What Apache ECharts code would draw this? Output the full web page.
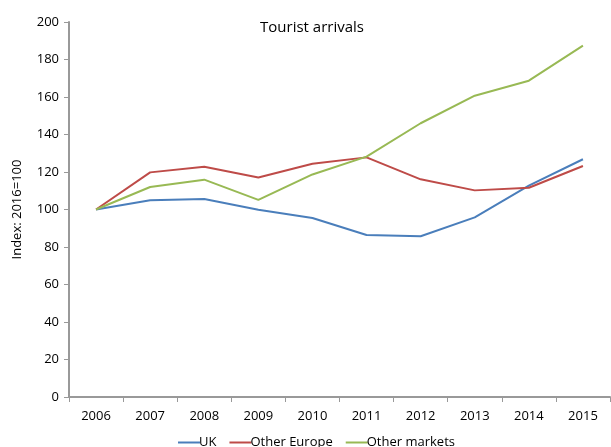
<!DOCTYPE html>
<html><head><meta charset="utf-8">
<script src="https://cdn.jsdelivr.net/npm/echarts@6/dist/echarts.min.js"></script>
<style>html,body{margin:0;padding:0;background:#fff}#c{width:611px;height:447px}</style>
</head><body><div id="c"></div>
<script>
const years = ['2006','2007','2008','2009','2010','2011','2012','2013','2014','2015'];
const uk = [100, 104.9, 105.6, 99.9, 95.5, 86.4, 85.7, 95.8, 112.7, 126.8];
const otherEurope = [100, 119.8, 122.8, 117.1, 124.4, 127.8, 116.1, 110.2, 111.6, 123.2];
const otherMarkets = [100, 112, 115.9, 105.1, 118.7, 128.2, 146, 160.7, 168.7, 187.4];
const FONT = '"Open Sans", "Noto Sans", sans-serif';
const chart = echarts.init(document.getElementById('c'));
chart.setOption({
  animation: false,
  textStyle: {fontFamily: FONT},
  title: {text: 'Tourist arrivals', left: 307, top: 15, textAlign: 'center',
    textStyle: {fontFamily: FONT, fontSize: 15, fontWeight: 'normal', color: '#000'}},
  grid: {left: 69, right: 1, top: 22, bottom: 50},
  legend: {top: 431, left: 173, itemWidth: 22, itemHeight: 2, icon: 'rect', itemGap: 13,
    textStyle: {fontFamily: FONT, fontSize: 13, color: '#000', padding: [0,0,0,-6]},
    data: ['UK','Other Europe','Other markets']},
  xAxis: {type: 'category', data: years, boundaryGap: true,
    axisLine: {lineStyle: {color: '#999', width: 2}},
    axisTick: {show: true, alignWithLabel: false, length: 5, lineStyle: {color: '#999'}},
    axisLabel: {color: '#000', fontSize: 13, margin: 13}},
  yAxis: {type: 'value', min: 0, max: 200, interval: 20,
    name: 'Index: 2016=100', nameLocation: 'middle', nameGap: 45, nameRotate: 90,
    nameTextStyle: {color: '#000', fontSize: 13},
    axisLine: {show: true, lineStyle: {color: '#999', width: 2}},
    axisTick: {show: true, length: 5, lineStyle: {color: '#999'}},
    axisLabel: {color: '#000', fontSize: 13, margin: 10},
    splitLine: {show: false}},
  series: [
    {name: 'UK', type: 'line', data: uk, symbol: 'none', lineStyle: {width: 2, color: '#4a7ebb'}, itemStyle: {color: '#4a7ebb'}},
    {name: 'Other Europe', type: 'line', data: otherEurope, symbol: 'none', lineStyle: {width: 2, color: '#be4b48'}, itemStyle: {color: '#be4b48'}},
    {name: 'Other markets', type: 'line', data: otherMarkets, symbol: 'none', lineStyle: {width: 2, color: '#98b954'}, itemStyle: {color: '#98b954'}}
  ]
});
</script></body></html>
